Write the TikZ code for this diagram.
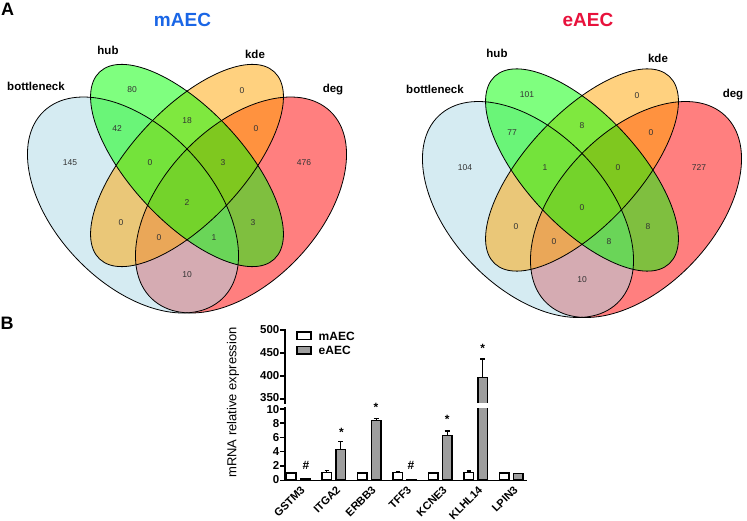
\documentclass[tikz,border=0pt]{standalone}
\usepackage{fontspec}
\setmainfont{Liberation Sans}
\definecolor{vblue}{RGB}{173,216,230}
\definecolor{vgreen}{RGB}{0,255,0}
\definecolor{vorange}{RGB}{255,165,0}
\definecolor{vred}{RGB}{255,0,0}
\definecolor{titleblue}{RGB}{26,102,230}
\definecolor{titlered}{RGB}{232,18,60}
\definecolor{bargray}{RGB}{158,158,158}
\tikzset{
  vfill/.style={fill opacity=0.5},
  vline/.style={draw=black, line width=0.8pt},
  vnum/.style={font=\fontsize{8.5}{10}\selectfont, text=black!80, inner sep=0pt},
  setlbl/.style={font=\bfseries\fontsize{11.5}{13}\selectfont, inner sep=0pt},
  ttl/.style={font=\bfseries\fontsize{19}{22}\selectfont, inner sep=0pt},
  panel/.style={font=\bfseries\fontsize{18}{21}\selectfont, inner sep=0pt},
  axisln/.style={line width=1.6pt, line cap=rect},
  wbar/.style={draw=black, fill=white, line width=1.3pt},
  gbar/.style={draw=black, fill=bargray, line width=1.3pt},
  ebar/.style={line width=1.3pt},
  ticklbl/.style={font=\bfseries\fontsize{11.5}{13}\selectfont, inner sep=0pt, anchor=east},
  xlbl/.style={font=\bfseries\fontsize{11}{13}\selectfont, inner sep=0pt, anchor=east, rotate=45},
  sig/.style={font=\bfseries\fontsize{12}{14}\selectfont, inner sep=0pt},
  leglbl/.style={font=\bfseries\fontsize{12}{14}\selectfont, inner sep=0pt, anchor=west}
}
\newcommand\vennshapes{%
  \fill[vfill, vred, rotate around={46.4:(241,205)}] (241,205) ellipse (129.4 and 77.8);
  \fill[vfill, vblue, rotate around={-46.4:(133,205)}] (133,205) ellipse (129.4 and 77.8);
  \fill[vfill, vorange, rotate around={47:(187,165.5)}] (187,165.5) ellipse (128 and 56);
  \fill[vfill, vgreen, rotate around={-47:(187,165.5)}] (187,165.5) ellipse (128 and 56);
  \draw[vline, rotate around={46.4:(241,205)}] (241,205) ellipse (129.4 and 77.8);
  \draw[vline, rotate around={-46.4:(133,205)}] (133,205) ellipse (129.4 and 77.8);
  \draw[vline, rotate around={47:(187,165.5)}] (187,165.5) ellipse (128 and 56);
  \draw[vline, rotate around={-47:(187,165.5)}] (187,165.5) ellipse (128 and 56);
}
\begin{document}
\begin{tikzpicture}[x=1pt,y=-1pt]
\useasboundingbox[fill=white] (0,0) rectangle (747,521);

% panel labels
\node[panel] (pA) at (7.5,9.5) {A};
\node[panel] (pB) at (7,323) {B};

% ---------- Venn mAEC ----------
\node[ttl, text=titleblue] (t1) at (182.5,20) {mAEC};
\begin{scope}
\vennshapes
\node[vnum] (m1) at (132,90) {80};
\node[vnum] (m2) at (242,91) {0};
\node[vnum] (m3) at (117,128.5) {42};
\node[vnum] (m4) at (187,121) {18};
\node[vnum] (m5) at (256,128.5) {0};
\node[vnum] (m6) at (70,163) {145};
\node[vnum] (m7) at (150,163) {0};
\node[vnum] (m8) at (223,163) {3};
\node[vnum] (m9) at (304,163) {476};
\node[vnum] (m10) at (187,203) {2};
\node[vnum] (m11) at (121,222.5) {0};
\node[vnum] (m12) at (253,222.5) {3};
\node[vnum] (m13) at (159,237.5) {0};
\node[vnum] (m14) at (214,237.5) {1};
\node[vnum] (m15) at (187,275) {10};
\end{scope}
\node[setlbl] (mb) at (36,86) {bottleneck};
\node[setlbl] (mh) at (108,50) {hub};
\node[setlbl] (mk) at (255,54) {kde};
\node[setlbl] (md) at (333,90) {deg};

% ---------- Venn eAEC ----------
\node[ttl, text=titlered] (t2) at (588,20) {eAEC};
\begin{scope}[shift={(395,4.5)}]
\vennshapes
\node[vnum] (e1) at (132,90) {101};
\node[vnum] (e2) at (242,91) {0};
\node[vnum] (e3) at (117,128.5) {77};
\node[vnum] (e4) at (187,121) {8};
\node[vnum] (e5) at (256,128.5) {0};
\node[vnum] (e6) at (70,163) {104};
\node[vnum] (e7) at (150,163) {1};
\node[vnum] (e8) at (223,163) {0};
\node[vnum] (e9) at (304,163) {727};
\node[vnum] (e10) at (187,203) {0};
\node[vnum] (e11) at (121,222.5) {0};
\node[vnum] (e12) at (253,222.5) {8};
\node[vnum] (e13) at (159,237.5) {0};
\node[vnum] (e14) at (214,237.5) {8};
\node[vnum] (e15) at (187,275) {10};
\end{scope}
\node[setlbl] (eb) at (435,89) {bottleneck};
\node[setlbl] (eh) at (497,53) {hub};
\node[setlbl] (ek) at (658,58) {kde};
\node[setlbl] (ed) at (733,95) {deg};

% ---------- Bar chart ----------
% y label
\node[rotate=90, font=\fontsize{13}{15}\selectfont, inner sep=0pt] (ylab) at (233,402.5) {mRNA relative expression};

% bars
% GSTM3
\draw[wbar] (286.5,480) rectangle (296,472.9);
\draw[gbar] (300.5,480) rectangle (310,478.6);
\node[sig] (s1) at (306,465) {\#};
% ITGA2
\draw[ebar] (326.75,472.2) -- (326.75,470.6) (324.5,470.6) -- (329,470.6);
\draw[wbar] (322,480) rectangle (331.5,472.2);
\draw[ebar] (340.75,449.5) -- (340.75,441.7) (338.2,441.7) -- (343.3,441.7);
\draw[gbar] (336,480) rectangle (345.5,449.5);
\node[sig] (s2) at (341.5,432) {*};
% ERBB3
\draw[wbar] (357.5,480) rectangle (367,472.9);
\draw[ebar] (376.25,420.4) -- (376.25,418.2) (373.7,418.2) -- (378.8,418.2);
\draw[gbar] (371.5,480) rectangle (381,420.4);
\node[sig] (s3) at (376,407.5) {*};
% TFF3
\draw[ebar] (397.75,472.5) -- (397.75,471.6) (395.5,471.6) -- (400,471.6);
\draw[wbar] (393,480) rectangle (402.5,472.5);
\draw[gbar] (407,480) rectangle (416.5,479.6);
\node[sig] (s4) at (411,465) {\#};
% KCNE3
\draw[wbar] (428.5,480) rectangle (438,472.9);
\draw[ebar] (447.25,435.3) -- (447.25,431) (444.7,431) -- (449.8,431);
\draw[gbar] (442.5,480) rectangle (452,435.3);
\node[sig] (s5) at (447.3,419.7) {*};
% KLHL14
\draw[ebar] (468.75,472.2) -- (468.75,471) (466.5,471) -- (471,471);
\draw[wbar] (464,480) rectangle (473.5,472.2);
\fill[bargray] (478,480) rectangle (487.5,408);
\draw[ebar] (478,408) -- (478,480) -- (487.5,480) -- (487.5,408);
\draw[ebar] (482.75,377.7) -- (482.75,359) (480.2,359) -- (485.3,359);
\fill[bargray] (478,403) rectangle (487.5,377.7);
\draw[ebar] (478,403) -- (478,377.7) -- (487.5,377.7) -- (487.5,403);
\node[sig] (s6) at (482.7,348.4) {*};
% LPIN3
\draw[wbar] (499.5,480) rectangle (509,472.9);
\draw[gbar] (513.5,480) rectangle (523,473.3);

% axes
\draw[axisln] (285,330) -- (285,403);
\draw[axisln] (285,408) -- (285,480.5) -- (526,480.5);
\foreach \yy in {330,353,376,399,409,423.2,437.4,451.6,465.8,480.5}
  \draw[axisln] (281,\yy) -- (285,\yy);
\node[ticklbl] (y500) at (279.5,330) {500};
\node[ticklbl] (y450) at (279.5,353) {450};
\node[ticklbl] (y400) at (279.5,376) {400};
\node[ticklbl] (y350) at (279.5,398) {350};
\node[ticklbl] (y10) at (279.5,409.5) {10};
\node[ticklbl] (y8) at (279.5,423.2) {8};
\node[ticklbl] (y6) at (279.5,437.4) {6};
\node[ticklbl] (y4) at (279.5,451.6) {4};
\node[ticklbl] (y2) at (279.5,465.8) {2};
\node[ticklbl] (y0) at (279.5,480) {0};

% x labels
\node[xlbl] (x1) at (303,488) {GSTM3};
\node[xlbl] (x2) at (338.5,488) {ITGA2};
\node[xlbl] (x3) at (374,488) {ERBB3};
\node[xlbl] (x4) at (409.5,488) {TFF3};
\node[xlbl] (x5) at (445,488) {KCNE3};
\node[xlbl] (x6) at (480.5,488) {KLHL14};
\node[xlbl] (x7) at (516,488) {LPIN3};

% legend
\draw[wbar] (297,332) rectangle (311,339.5);
\draw[gbar] (297,346.5) rectangle (311,354);
\node[leglbl] (l1) at (318.5,336) {mAEC};
\node[leglbl] (l2) at (318.5,350.5) {eAEC};
\end{tikzpicture}
\end{document}
